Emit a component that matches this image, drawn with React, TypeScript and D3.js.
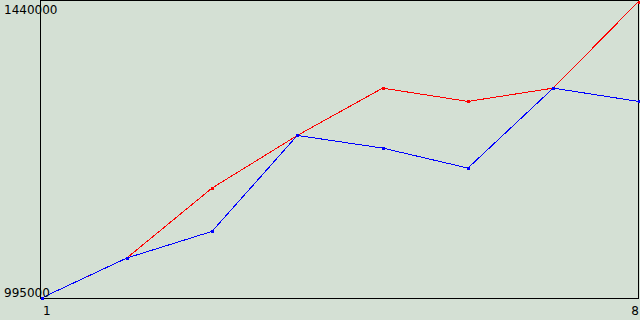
import React from "react";
import * as d3 from "d3";

const xValues = [1, 2, 3, 4, 5, 6, 7, 8];
const redSeries = [995000, 1055000, 1160000, 1239000, 1310000, 1290000, 1310000, 1440000];
const blueSeries = [995000, 1055000, 1095000, 1239000, 1220000, 1190000, 1310000, 1290000];
const yTickLabels = ["995000", "1440000"];
const xTickLabels = ["1", "8"];
const yDomain = [995000, 1440000];

const W = 640;
const H = 320;
const BG = "#d4e0d4";

export default function App() {
  const x = d3.scaleLinear().domain([1, 8]).range([41.5, 638.5]);
  const y = d3.scaleLinear().domain(yDomain).range([298, 1.5]);
  const line = d3
    .line<number>()
    .x((_, i) => x(xValues[i]))
    .y((d) => y(d));

  const series = [
    { name: "red", color: "#ff0000", values: redSeries },
    { name: "blue", color: "#0000ff", values: blueSeries },
  ];

  return (
    <div style={{ position: "fixed", left: 0, top: 0, width: W, height: H }}>
      <svg width={W} height={H} style={{ display: "block" }}>
        <rect x={0} y={0} width={W} height={H} fill={BG} />
        <rect
          x={40.5}
          y={0.5}
          width={598}
          height={298}
          fill="none"
          stroke="#000"
          strokeWidth={1}
          shapeRendering="crispEdges"
        />
        {series.map((s) => (
          <g key={s.name}>
            <path
              d={line(s.values) || ""}
              fill="none"
              stroke={s.color}
              strokeWidth={1}
              shapeRendering="crispEdges"
            />
            {s.values.map((v, i) => (
              <rect
                key={i}
                x={Math.round(x(xValues[i])) - 1.5}
                y={Math.round(y(v)) - 1.5}
                width={3}
                height={3}
                fill={s.color}
                shapeRendering="crispEdges"
              />
            ))}
          </g>
        ))}
        <g fontFamily="DejaVu Sans" fontSize={12} fill="#000">
          <text x={4} y={14}>{yTickLabels[1]}</text>
          <text x={4} y={297}>{yTickLabels[0]}</text>
          <text x={43} y={315}>{xTickLabels[0]}</text>
          <text x={639} y={315} textAnchor="end">{xTickLabels[1]}</text>
        </g>
      </svg>
    </div>
  );
}
